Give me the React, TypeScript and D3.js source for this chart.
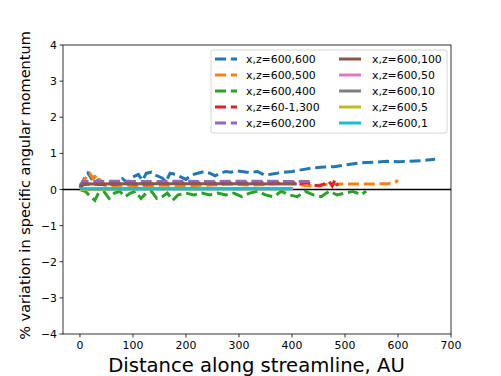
import React from "react";
import * as d3 from "d3";

const W = 501, H = 376;
const margin = { left: 63, right: 50, top: 45, bottom: 42 };

const seriesNames = [
  "x,z=600,600", "x,z=600,500", "x,z=600,400", "x,z=60-1,300", "x,z=600,200",
  "x,z=600,100", "x,z=600,50", "x,z=600,10", "x,z=600,5", "x,z=600,1",
];
const colors = ["#1f77b4", "#ff7f0e", "#2ca02c", "#d62728", "#9467bd", "#8c564b", "#e377c2", "#7f7f7f", "#bcbd22", "#17becf"];
const dashedFlags = [true, true, true, true, true, false, false, false, false, false];

const s600_600: [number, number][] = [
  [0, 0.05], [8, 0.3], [15, 0.45], [22, 0.3], [30, 0.38], [38, 0.15], [50, 0.12], [60, 0.22], [70, 0.15], [80, 0.3],
  [90, 0.18], [100, 0.35], [110, 0.42], [118, 0.25], [125, 0.45], [135, 0.48], [145, 0.38], [155, 0.32], [162, 0.22],
  [170, 0.45], [180, 0.42], [190, 0.35], [200, 0.28], [210, 0.4], [222, 0.45], [235, 0.5], [245, 0.45], [255, 0.38],
  [265, 0.45], [275, 0.5], [285, 0.48], [295, 0.52], [305, 0.5], [320, 0.47], [335, 0.5], [348, 0.4], [360, 0.42],
  [380, 0.47], [400, 0.5], [420, 0.55], [440, 0.6], [460, 0.62], [480, 0.63], [500, 0.68], [520, 0.72], [540, 0.75],
  [560, 0.76], [580, 0.78], [600, 0.77], [620, 0.78], [645, 0.8], [670, 0.84],
];
const s600_500: [number, number][] = [
  [0, 0.1], [10, 0.3], [18, 0.45], [25, 0.3], [32, 0.4], [40, 0.2], [50, 0.1], [80, 0.12], [120, 0.1], [160, 0.12],
  [200, 0.1], [240, 0.12], [280, 0.15], [320, 0.12], [360, 0.15], [400, 0.18], [420, 0.12], [440, 0.1], [460, 0.14],
  [500, 0.15], [540, 0.15], [580, 0.16], [595, 0.2], [600, 0.26],
];
const s600_400: [number, number][] = [
  [0, 0], [10, -0.05], [20, -0.2], [28, -0.3], [35, -0.1], [45, -0.05], [55, -0.25], [65, -0.1], [75, -0.05],
  [85, -0.2], [95, -0.1], [105, -0.05], [115, -0.25], [125, -0.1], [135, -0.05], [145, -0.25], [155, -0.2],
  [165, -0.1], [175, -0.3], [185, -0.15], [200, -0.1], [215, -0.15], [230, -0.1], [245, -0.15], [260, -0.1],
  [275, -0.15], [290, -0.1], [305, -0.2], [320, -0.1], [335, -0.05], [350, -0.15], [365, -0.2], [380, -0.05],
  [395, -0.15], [410, -0.2], [425, -0.05], [440, -0.15], [455, -0.2], [470, -0.05], [485, -0.15], [500, -0.1],
  [515, -0.05], [530, -0.15], [540, -0.05],
];
const s60_300: [number, number][] = [
  [0, 0.05], [8, 0.15], [40, 0.14], [80, 0.16], [120, 0.15], [160, 0.17], [200, 0.18], [240, 0.18], [280, 0.18],
  [320, 0.19], [360, 0.2], [400, 0.2], [415, 0.15], [428, 0.2], [440, 0.12], [452, 0.1], [462, 0.16], [470, 0.22],
  [476, 0.1], [481, 0.27], [486, 0.1],
];
const s600_200: [number, number][] = [
  [0, 0.1], [5, 0.22], [60, 0.23], [120, 0.22], [180, 0.23], [240, 0.22], [300, 0.23], [360, 0.23], [400, 0.22],
  [435, 0.22],
];
const s600_100: [number, number][] = [[0, 0.05], [5, 0.15], [100, 0.16], [200, 0.16], [300, 0.16], [409, 0.15]];
const s600_50: [number, number][] = [[0, 0.0], [100, 0.03], [200, 0.03], [300, 0.03], [402, 0.03]];
const s600_10: [number, number][] = [[0, 0.0], [100, 0.03], [200, 0.03], [300, 0.03], [400, 0.03]];
const s600_5: [number, number][] = [[0, 0.0], [100, 0.02], [200, 0.02], [300, 0.02], [400, 0.02]];
const s600_1: [number, number][] = [[0, 0.02], [100, 0.02], [200, 0.02], [300, 0.02], [400, 0.02]];

const allSeries = [s600_600, s600_500, s600_400, s60_300, s600_200, s600_100, s600_50, s600_10, s600_5, s600_1];

const xTicks = [0, 100, 200, 300, 400, 500, 600, 700];
const yTicks = [-4, -3, -2, -1, 0, 1, 2, 3, 4];

export default function App() {
  const x = d3.scaleLinear().domain([-32, 700]).range([margin.left, W - margin.right]);
  const y = d3.scaleLinear().domain([-4, 4]).range([H - margin.bottom - 0, margin.top]);
  const line = d3.line<[number, number]>().x((d) => x(d[0])).y((d) => y(d[1]));
  const font = "DejaVu Sans, sans-serif";
  const x0 = margin.left, x1 = W - margin.right, y0 = margin.top, y1 = H - margin.bottom;
  const fmt = (v: number) => (v < 0 ? "\u2212" + Math.abs(v) : String(v));

  const legX = 211, legY = 50, legW = 236, legH = 83;
  const rowH = 16;

  return (
    <svg width={W} height={H} style={{ position: "absolute", left: 0, top: 0, background: "white" }} fontFamily={font}>
      <rect x={0} y={0} width={W} height={H} fill="white" />
      <line x1={x0} x2={x1} y1={y(0)} y2={y(0)} stroke="black" strokeWidth={1.5} />
      {allSeries.map((s, i) => (
        <path key={i} d={line(s) || ""} fill="none" stroke={colors[i]} strokeWidth={3}
          strokeDasharray={dashedFlags[i] ? "11,4.8" : undefined} />
      ))}
      <rect x={x0} y={y0} width={x1 - x0} height={y1 - y0} fill="none" stroke="black" strokeWidth={0.8} />
      {xTicks.map((t) => (
        <g key={t}>
          <line x1={x(t)} x2={x(t)} y1={y1} y2={y1 + 3.5} stroke="black" strokeWidth={0.8} />
          <text x={x(t)} y={y1 + 15} fontSize={10.9} textAnchor="middle">{fmt(t)}</text>
        </g>
      ))}
      {yTicks.map((t) => (
        <g key={t}>
          <line x1={x0 - 3.5} x2={x0} y1={y(t)} y2={y(t)} stroke="black" strokeWidth={0.8} />
          <text x={x0 - 6} y={y(t) + 4} fontSize={10.9} textAnchor="end">{fmt(t)}</text>
        </g>
      ))}
      <text x={256.5} y={H - 4} fontSize={19.6} textAnchor="middle">Distance along streamline, AU</text>
      <text transform={`translate(30,${(y0 + y1) / 2 - 4}) rotate(-90)`} fontSize={14.5} textAnchor="middle">% variation in specific angular momentum</text>
      <rect x={legX} y={legY} width={legW} height={legH} rx={2} fill="white" fillOpacity={0.8} stroke="#cccccc" strokeWidth={0.8} />
      {seriesNames.map((n, i) => {
        const col = i < 5 ? 0 : 1;
        const row = i % 5;
        const hx = col === 0 ? 215 : 339;
        const tx = col === 0 ? 246 : 372;
        const ry = 59 + row * rowH;
        return (
          <g key={n}>
            <line x1={hx} x2={hx + 22} y1={ry} y2={ry} stroke={colors[i]} strokeWidth={3}
              strokeDasharray={dashedFlags[i] ? "11,4.8" : undefined} />
            <text x={tx} y={ry + 4} fontSize={10.9}>{n}</text>
          </g>
        );
      })}
    </svg>
  );
}
